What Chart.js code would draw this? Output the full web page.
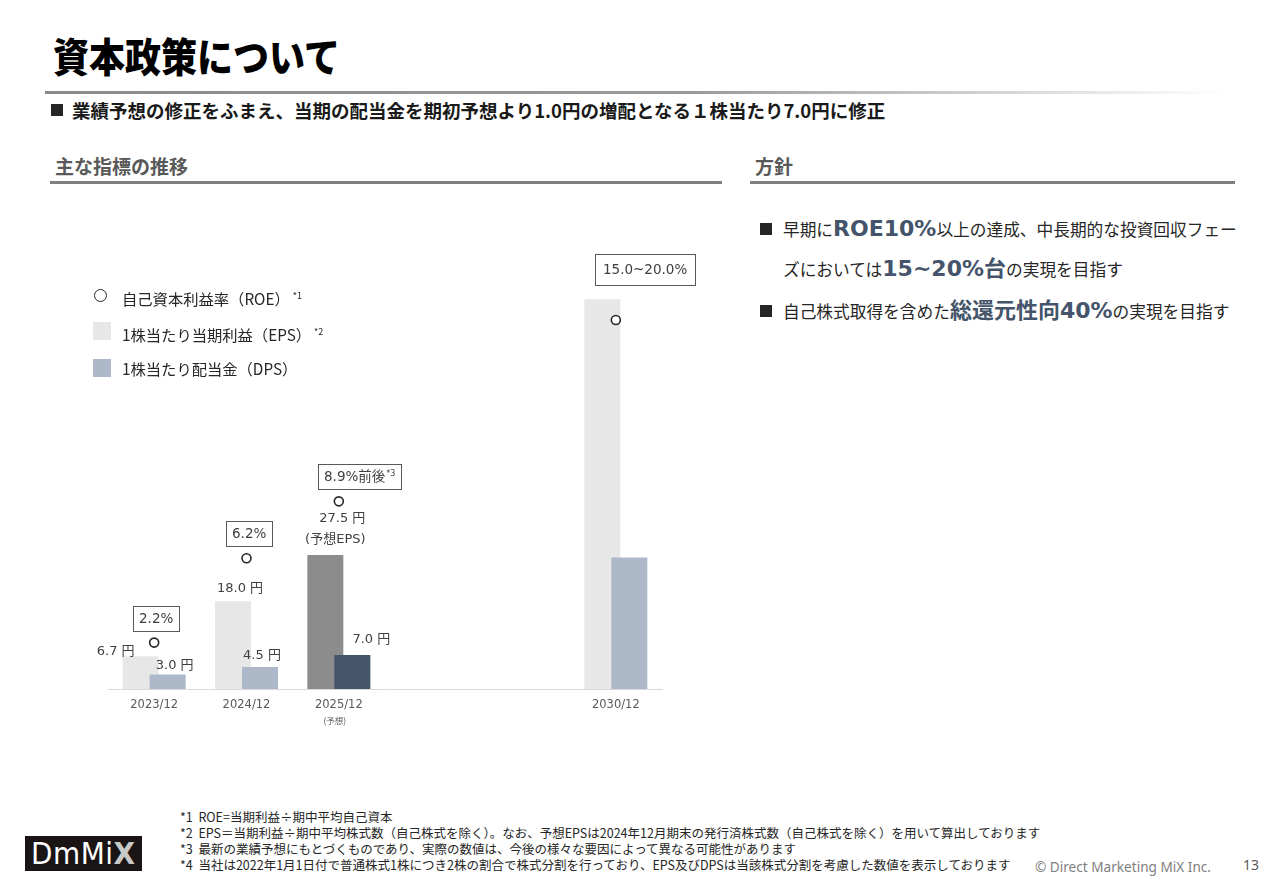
<!DOCTYPE html>
<html lang="ja">
<head>
<meta charset="utf-8">
<title>資本政策について</title>
<script src="https://cdn.jsdelivr.net/npm/chart.js@4.4.1/dist/chart.umd.min.js"></script>
<style>
  body { margin: 0; width: 1280px; height: 886px; position: relative; overflow: hidden;
         background: #fff; color: #262626; font-family: "Noto Sans CJK JP", sans-serif; }
  .abs { position: absolute; white-space: nowrap; }
  #title { left: 53px; top: 35px; font-size: 40px; line-height: 40px; font-weight: 900; color: #000;
           transform: scaleX(0.9); transform-origin: left center; }
  #titleRule { left: 45px; top: 91px; width: 1180px; height: 3px;
               background: linear-gradient(to right, #8a8a8a, #9a9a9a 55%, #fff); }
  .sq { position: absolute; background: #262626; }
  #lead { left: 72px; top: 99px; font-size: 18.5px; line-height: 22px; font-weight: 700; color: #1a1a1a; }
  .head { font-size: 19px; line-height: 22px; font-weight: 700; color: #595959; }
  .rule { position: absolute; height: 3px; background: #7f7f7f; }
  .pol { font-size: 16.7px; line-height: 30px; color: #262626; }
  .pol b { font-family: "DejaVu Sans", "Noto Sans CJK JP", sans-serif; font-size: 22px; color: #44546a; font-weight: 700; }
  .leg { font-size: 15.3px; line-height: 20px; color: #262626; }
  .leg sup { font-size: 9px; vertical-align: 6px; margin-left: 3px; }
  #notes { left: 180px; top: 809px; font-size: 12.5px; line-height: 16px; color: #262626; }
  #copy { left: 1035px; top: 858px; font-family: "Noto Sans", sans-serif; font-size: 13.6px; line-height: 18px; color: #7f7f7f; }
  #page { left: 1243px; top: 855px; font-family: "Noto Sans", sans-serif; font-size: 14px; line-height: 20px; color: #595959; }
  #logo { left: 25px; top: 836px; width: 117px; height: 35px; background: #1a1414; color: #fff;
          font-family: "DejaVu Sans Condensed", "DejaVu Sans", sans-serif; font-size: 31px; line-height: 35px;
          text-indent: 6px; letter-spacing: 0.5px; }
  #logo span { color: #c8c8c8; font-weight: 700; }
  #chartBox { position: absolute; left: 50px; top: 190px; width: 680px; height: 560px; }
</style>
</head>
<body>

<div id="title" class="abs">資本政策について</div>
<div id="titleRule" class="abs"></div>

<div class="sq" style="left:51px;top:104px;width:12px;height:12px;"></div>
<div id="lead" class="abs">業績予想の修正をふまえ、当期の配当金を期初予想より1.0円の増配となる１株当たり7.0円に修正</div>

<div class="abs head" style="left:55px;top:155px;">主な指標の推移</div>
<div class="rule" style="left:50px;top:181px;width:672px;"></div>
<div class="abs head" style="left:755px;top:155px;">方針</div>
<div class="rule" style="left:750px;top:181px;width:485px;"></div>

<!-- policy bullets -->
<div class="sq" style="left:760px;top:223px;width:12px;height:12px;"></div>
<div class="abs pol" style="left:783px;top:214px;">早期に<b>ROE10%</b>以上の達成、中長期的な投資回収フェー</div>
<div class="abs pol" style="left:783px;top:254px;">ズにおいては<b>15~20%台</b>の実現を目指す</div>
<div class="sq" style="left:760px;top:305px;width:12px;height:12px;"></div>
<div class="abs pol" style="left:783px;top:296px;">自己株式取得を含めた<b>総還元性向40%</b>の実現を目指す</div>

<div id="chartBox"><canvas id="capChart" width="680" height="560"></canvas></div>

<!-- legend -->
<div class="abs" style="left:94px;top:289px;width:11px;height:11px;border:1.7px solid #262626;border-radius:50%;"></div>
<div class="abs leg" style="left:122px;top:286px;">自己資本利益率（ROE）<sup>*1</sup></div>
<div class="abs" style="left:93px;top:322px;width:18px;height:18px;background:#e7e7e7;"></div>
<div class="abs leg" style="left:122px;top:322px;">1株当たり当期利益（EPS）<sup>*2</sup></div>
<div class="abs" style="left:93px;top:359px;width:18px;height:18px;background:#adb8c9;"></div>
<div class="abs leg" style="left:122px;top:358px;">1株当たり配当金（DPS）</div>

<div id="notes" class="abs">*1&nbsp; ROE=当期利益÷期中平均自己資本<br>*2&nbsp; EPS＝当期利益÷期中平均株式数（自己株式を除く）。なお、予想EPSは2024年12月期末の発行済株式数（自己株式を除く）を用いて算出しております<br>*3&nbsp; 最新の業績予想にもとづくものであり、実際の数値は、今後の様々な要因によって異なる可能性があります<br>*4&nbsp; 当社は2022年1月1日付で普通株式1株につき2株の割合で株式分割を行っており、EPS及びDPSは当該株式分割を考慮した数値を表示しております</div>
<div id="logo" class="abs">DmMi<span>X</span></div>
<div id="copy" class="abs">© Direct Marketing MiX Inc.</div>
<div id="page" class="abs">13</div>

<script>
/* ── data ───────────────────────────────────────────── */
var categories = ['2023/12', '2024/12', '2025/12', '', '', '2030/12'];
var epsValues  = [6.7, 18.0, 27.5, null, null, 80];
var dpsValues  = [3.0, 4.5, 7.0, null, null, 27];
var roeValues  = [2.2, 6.2, 8.9, null, null, 17.5];

var epsLabels  = ['6.7 円', '18.0 円', '27.5 円', null, null, null];
var epsNotes   = [null, null, '(予想EPS)', null, null, null];
var dpsLabels  = ['3.0 円', '4.5 円', '7.0 円', null, null, null];
var roeLabels  = ['2.2%', '6.2%', '8.9%前後', null, null, '15.0~20.0%'];
var roeNotes   = ['', '', '*3', '', '', ''];
var tickNotes  = ['', '', '(予想)', '', '', ''];
var forecastIndex = 2;
var targetIndex = 5;

/* ── label nudges (px) relative to each bar top ─────── */
var nudge = {
  eps: [[-25, -5], [7, -13], [17, -36]],
  epsNote: [null, null, [10, -15]],
  dps: [[7, -9], [2, -11], [19, -15]]
};

var LABEL_FONT = '"DejaVu Sans", "Noto Sans CJK JP", sans-serif';

// draw datasets in array order so DPS sits over EPS and ROE over both
var drawInOrder = {
  id: 'drawInOrder',
  beforeDatasetsDraw: function(chart) {
    chart.getSortedVisibleDatasetMetas().forEach(function(m) { m.controller.draw(); });
    return false;
  }
};

var valueLabels = {
  id: 'valueLabels',
  afterDraw: function(chart) {
    var ctx = chart.ctx;
    var eps = chart.getDatasetMeta(0).data;
    var dps = chart.getDatasetMeta(1).data;
    var roe = chart.getDatasetMeta(2).data;
    var xs = chart.scales.x;
    ctx.save();
    ctx.fillStyle = '#404040';
    ctx.textBaseline = 'middle';

    categories.forEach(function(c, i) {
      ctx.textAlign = 'center';
      ctx.font = '13px ' + LABEL_FONT;
      if (epsLabels[i]) {
        ctx.fillText(epsLabels[i], eps[i].x + nudge.eps[i][0], eps[i].y + nudge.eps[i][1]);
      }
      if (epsNotes[i]) {
        ctx.fillText(epsNotes[i], eps[i].x + nudge.epsNote[i][0], eps[i].y + nudge.epsNote[i][1]);
      }
      if (dpsLabels[i]) {
        ctx.fillText(dpsLabels[i], dps[i].x + nudge.dps[i][0], dps[i].y + nudge.dps[i][1]);
      }

      // boxed ROE values
      if (roeLabels[i]) {
        var p = roe[i];
        var isTarget = i === targetIndex;
        var boxH = isTarget ? 31 : 25;
        var top = Math.min(p.y, eps[i].y) - (isTarget ? 14 : 12) - boxH;
        var left = Math.round(p.x - 21);
        ctx.font = '13.5px ' + LABEL_FONT;
        var w = ctx.measureText(roeLabels[i]).width;
        ctx.font = '8px ' + LABEL_FONT;
        var wn = roeNotes[i] ? ctx.measureText(roeNotes[i]).width + 1 : 0;
        var pad = isTarget ? 8 : 6;
        ctx.strokeStyle = '#595959';
        ctx.lineWidth = 1;
        ctx.strokeRect(left + 0.5, Math.round(top) + 0.5, Math.round(w + wn + pad * 2), boxH);
        ctx.textAlign = 'left';
        ctx.font = '13.5px ' + LABEL_FONT;
        ctx.fillText(roeLabels[i], left + pad, top + boxH / 2 + 1);
        if (roeNotes[i]) {
          ctx.font = '8px ' + LABEL_FONT;
          ctx.fillText(roeNotes[i], left + pad + 1 + w, top + boxH / 2 - 3);
        }
      }

      if (tickNotes[i]) {
        ctx.textAlign = 'center';
        ctx.fillStyle = '#595959';
        ctx.font = '8.5px "Noto Sans CJK JP", sans-serif';
        ctx.fillText(tickNotes[i], xs.getPixelForValue(i) - 4, xs.top + 32);
        ctx.fillStyle = '#404040';
      }
    });
    ctx.restore();
  }
};

function barColor(normal, forecast) {
  return function(ctx) { return ctx.dataIndex === forecastIndex ? forecast : normal; };
}

new Chart(document.getElementById('capChart'), {
  data: {
    labels: categories,
    datasets: [
      { type: 'bar', label: '1株当たり当期利益（EPS）', data: epsValues, yAxisID: 'y',
        backgroundColor: barColor('#e7e7e7', '#8c8c8c'),
        categoryPercentage: 0.585, barPercentage: 1.333 },
      { type: 'bar', label: '1株当たり配当金（DPS）', data: dpsValues, yAxisID: 'y',
        backgroundColor: barColor('#adb8c9', '#44546a'),
        categoryPercentage: 0.585, barPercentage: 1.333 },
      { type: 'line', label: '自己資本利益率（ROE）', data: roeValues, yAxisID: 'y1',
        showLine: false, pointRadius: 4.5, pointBorderWidth: 1.6,
        pointBackgroundColor: '#fff', pointBorderColor: '#262626' }
    ]
  },
  options: {
    responsive: false,
    animation: false,
    layout: { padding: { left: 58, right: 68, top: 60.4, bottom: 0 } },
    plugins: { legend: { display: false }, tooltip: { enabled: false } },
    scales: {
      x: {
        grid: { display: false, drawTicks: false },
        border: { color: '#d9d9d9', width: 1 },
        ticks: { color: '#595959', padding: 9, font: { family: '"DejaVu Sans"', size: 11.5 } },
        afterFit: function(s) { s.height = 61; }
      },
      y:  { display: false, min: 0, max: 90 },
      y1: { display: false, min: 0, max: 20.8 }
    }
  },
  plugins: [drawInOrder, valueLabels]
});
</script>
</body>
</html>
